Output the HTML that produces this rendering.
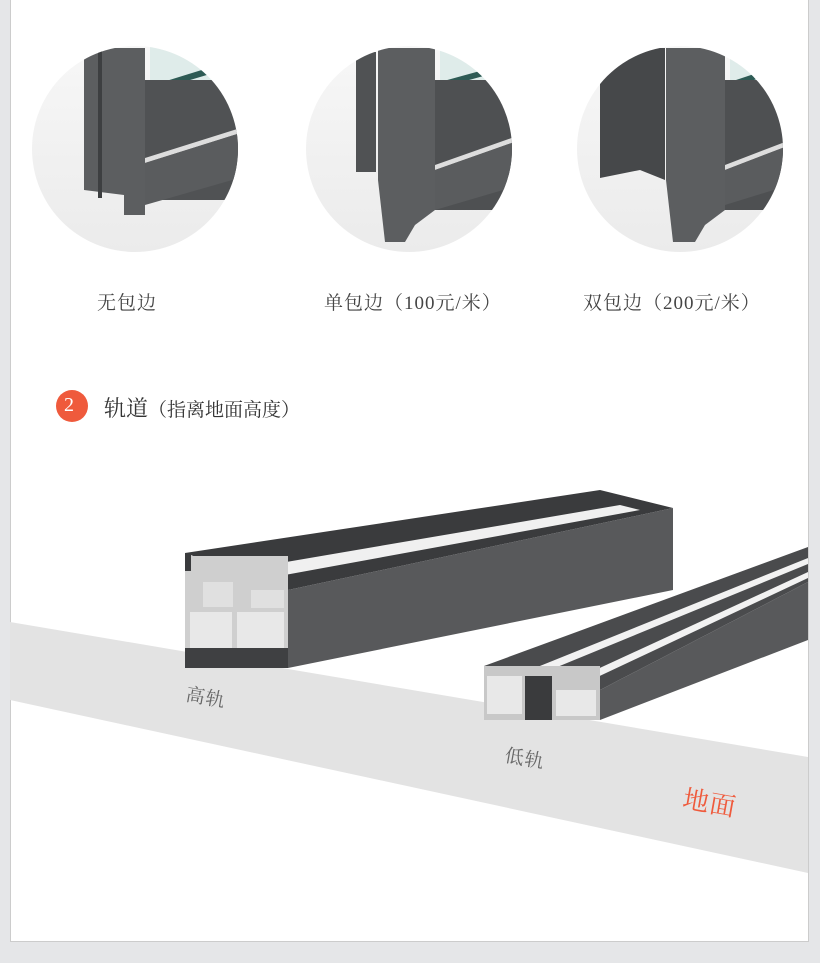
<!DOCTYPE html>
<html><head><meta charset="utf-8"><style>
body{margin:0;background:#e5e6e8;}
.p{position:absolute;left:10px;top:0;width:797px;height:941px;background:#fff;border:1px solid #ccc;border-top:none;}
.t{position:absolute;font-family:"Liberation Serif","Noto Serif CJK SC",serif;color:#444;font-size:19px;letter-spacing:1px;}
</style></head><body>
<div style="position:relative;width:820px;height:963px;overflow:hidden">
<div class="p"></div>
<svg width="820" height="963" style="position:absolute;left:0;top:0">
<defs>
<clipPath id="c1"><circle cx="135" cy="149" r="103"/></clipPath>
<clipPath id="c2"><circle cx="409" cy="149" r="103"/></clipPath>
<clipPath id="c3"><circle cx="680" cy="149" r="103"/></clipPath>
<linearGradient id="cg" x1="0" y1="0" x2="0" y2="1"><stop offset="0" stop-color="#f7f7f7"/><stop offset="1" stop-color="#ebebeb"/></linearGradient>
</defs>
<circle cx="135" cy="149" r="103" fill="url(#cg)"/>
<g clip-path="url(#c1)">
<rect x="150" y="46" width="100" height="40" fill="#dfecea"/>
<polygon points="150,86 250,55 250,62 150,92" fill="#2e5b55"/>
<rect x="145" y="80" width="110" height="120" fill="#505254"/>
<polygon points="145,158 250,125 250,130 145,163" fill="#ddd"/>
<polygon points="145,163 250,130 250,175 145,205" fill="#5a5c5e"/>
<polygon points="84,48 145,48 145,215 124,215 124,195 84,190" fill="#5c5e60"/>
<rect x="98" y="48" width="4" height="150" fill="#3d3f41"/>
</g>
<circle cx="409" cy="149" r="103" fill="url(#cg)"/>
<g clip-path="url(#c2)">
<rect x="440" y="46" width="80" height="40" fill="#dfecea"/>
<polygon points="440,82 520,60 520,66 440,88" fill="#2e5b55"/>
<rect x="435" y="80" width="80" height="130" fill="#4e5052"/>
<polygon points="435,165 520,135 520,140 435,170" fill="#ddd"/>
<polygon points="435,170 520,140 520,185 435,210" fill="#5a5c5e"/>
<rect x="356" y="52" width="20" height="120" fill="#505254"/>
<polygon points="378,48 435,48 435,210 415,225 405,242 385,242 378,180" fill="#5c5e60"/>
</g>
<circle cx="680" cy="149" r="103" fill="url(#cg)"/>
<g clip-path="url(#c3)">
<rect x="730" y="46" width="60" height="40" fill="#dfecea"/>
<polygon points="730,82 790,62 790,68 730,88" fill="#2e5b55"/>
<rect x="725" y="80" width="70" height="130" fill="#4e5052"/>
<polygon points="725,165 790,140 790,145 725,170" fill="#ddd"/>
<polygon points="725,170 790,145 790,185 725,205" fill="#5a5c5e"/>
<polygon points="600,80 640,48 665,48 665,180 640,170 600,178" fill="#46484a"/>
<polygon points="666,48 725,48 725,210 705,225 695,242 673,242 666,180" fill="#5c5e60"/>
</g>
<polygon points="10,622 808,757 808,873 10,700" fill="#e3e3e3"/>
<polygon points="185,553 600,490 673,508 288,590" fill="#3a3b3d"/>
<polygon points="210,575 620,505 640,510 230,585" fill="#f0f0f0"/>
<polygon points="288,590 673,508 673,590 288,668" fill="#58595b"/>
<rect x="185" y="556" width="103" height="112" fill="#cfcfcf"/>
<rect x="190" y="612" width="42" height="36" fill="#e8e8e8"/>
<rect x="237" y="612" width="47" height="36" fill="#e8e8e8"/>
<rect x="203" y="582" width="30" height="25" fill="#e0e0e0"/>
<rect x="251" y="590" width="33" height="18" fill="#e0e0e0"/>
<rect x="185" y="648" width="103" height="20" fill="#3f4042"/>
<rect x="185" y="553" width="6" height="18" fill="#3a3b3d"/>
<polygon points="484,666 808,547 808,582 600,690" fill="#4a4b4d"/>
<polygon points="520,674 808,558 808,564 528,679" fill="#f2f2f2"/>
<polygon points="565,684 808,572 808,578 572,689" fill="#f2f2f2"/>
<polygon points="600,690 808,582 808,640 600,720" fill="#58595b"/>
<rect x="484" y="666" width="116" height="54" fill="#c8c8c8"/>
<rect x="487" y="676" width="35" height="38" fill="#e8e8e8"/>
<rect x="525" y="676" width="27" height="44" fill="#3a3b3d"/>
<rect x="556" y="690" width="40" height="26" fill="#e8e8e8"/>
<circle cx="72" cy="406" r="16" fill="#ef5a3c"/>
</svg>
<div class="t" style="left:97px;top:288px">无包边</div>
<div class="t" style="left:324px;top:288px">单包边（100元/米）</div>
<div class="t" style="left:583px;top:288px">双包边（200元/米）</div>
<div class="t" style="left:64px;top:394px;color:#fff;font-size:20px;letter-spacing:0">2</div>
<div class="t" style="left:104px;top:392px;font-size:22px;color:#333;letter-spacing:0">轨道<span style="font-size:19px">（指离地面高度）</span></div>
<div class="t" style="left:186px;top:683px;transform:rotate(10deg);color:#666">高轨</div>
<div class="t" style="left:505px;top:744px;transform:rotate(10deg);color:#666">低轨</div>
<div class="t" style="left:683px;top:783px;transform:rotate(10deg);color:#ef5a3c;font-size:26px">地面</div>
</div>
</body></html>
